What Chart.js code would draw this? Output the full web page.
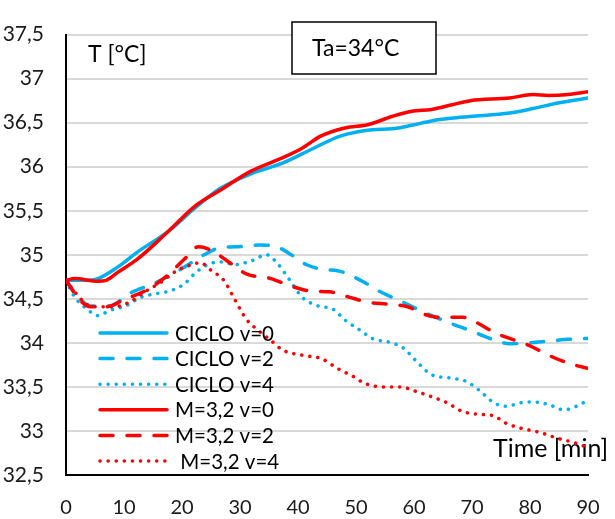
<!DOCTYPE html>
<html>
<head>
<meta charset="utf-8">
<script src="https://cdn.jsdelivr.net/npm/chart.js@4.4.1/dist/chart.umd.min.js"></script>
<style>
  html, body { margin: 0; padding: 0; background: #fff; }
  #wrap { width: 615px; height: 519px; position: relative; }
</style>
</head>
<body>
<div id="wrap"><canvas id="chart" width="615" height="519"></canvas></div>
<script>
// readings (minutes / °C)
const seriesLabels = ['CICLO v=0', 'CICLO v=2', 'CICLO v=4', 'M=3,2 v=0', 'M=3,2 v=2', ' M=3,2 v=4'];

const cicloV0Time = [0, 3, 5.5, 8.9, 12.3, 17.7, 22.4, 26.5, 31.9, 37.3, 42.7, 47.4, 52.8, 56.2, 59.6, 63, 66.4, 69.7, 76.5, 80.5, 84.6, 90];
const cicloV0Temp = [34.71, 34.71, 34.73, 34.86, 35.03, 35.27, 35.54, 35.75, 35.92, 36.04, 36.21, 36.35, 36.42, 36.43, 36.47, 36.52, 36.55, 36.57, 36.61, 36.66, 36.72, 36.78];

const cicloV2Time = [0, 2.2, 4.2, 7.6, 10.9, 15.7, 20.4, 23.8, 26.5, 29.2, 33.2, 35.9, 38.6, 41.4, 44.7, 46.8, 50.8, 54.2, 58.2, 61.6, 66.4, 69.7, 73.1, 76.5, 79.9, 83.2, 86.6, 90];
const cicloV2Temp = [34.71, 34.52, 34.42, 34.42, 34.56, 34.69, 34.86, 35.0, 35.08, 35.09, 35.11, 35.10, 35.01, 34.89, 34.83, 34.82, 34.71, 34.58, 34.46, 34.35, 34.22, 34.14, 34.05, 33.99, 34.0, 34.02, 34.04, 34.05];

const cicloV4Time = [0, 1.5, 3.5, 5.5, 7.6, 10.3, 13, 15.7, 18.4, 20.4, 22.4, 24.5, 26.5, 29.2, 31.9, 34.6, 36.6, 38.6, 40.7, 43.4, 46.1, 48.1, 50.8, 52.8, 56.2, 58.2, 60.3, 63, 66.4, 69.1, 71.1, 73.8, 75.8, 78.5, 80.5, 83.2, 85.9, 88, 90];
const cicloV4Temp = [34.71, 34.52, 34.39, 34.31, 34.37, 34.42, 34.52, 34.56, 34.6, 34.67, 34.8, 34.89, 34.92, 34.89, 34.93, 35.0, 34.89, 34.71, 34.52, 34.42, 34.38, 34.26, 34.14, 34.05, 34.0, 33.94, 33.8, 33.64, 33.6, 33.56, 33.47, 33.32, 33.28, 33.32, 33.33, 33.3, 33.24, 33.28, 33.35];

const m32V0Time = [0, 1.5, 5.5, 6.9, 8.9, 12.3, 17.7, 22.4, 26.5, 31.9, 37.3, 40.7, 44, 48.1, 52.2, 56.2, 59.6, 63, 66.4, 69.7, 76.5, 80.5, 83.2, 86.6, 90];
const m32V0Temp = [34.71, 34.73, 34.70, 34.71, 34.80, 34.95, 35.27, 35.56, 35.73, 35.95, 36.10, 36.21, 36.35, 36.44, 36.48, 36.57, 36.63, 36.65, 36.70, 36.75, 36.78, 36.82, 36.81, 36.82, 36.85];

const m32V2Time = [0, 2.2, 4.2, 6.9, 10.3, 13.6, 17, 20.4, 22.8, 25.1, 27.8, 31.2, 35.3, 38.6, 42, 45.4, 48.8, 52.2, 55.5, 58.9, 61.6, 64.3, 68.4, 71.1, 73.8, 76.5, 79.9, 83.2, 86.6, 90];
const m32V2Temp = [34.71, 34.5, 34.41, 34.41, 34.5, 34.59, 34.74, 34.95, 35.09, 35.05, 34.93, 34.78, 34.73, 34.65, 34.59, 34.58, 34.52, 34.46, 34.44, 34.41, 34.33, 34.29, 34.29, 34.22, 34.12, 34.05, 33.97, 33.86, 33.77, 33.71];

const m32V4Time = [0, 1.5, 3.5, 5.5, 8.2, 10.9, 13.6, 16.4, 19.1, 21.8, 23.1, 25.1, 27.2, 29.2, 31.2, 33.2, 35.3, 37.3, 40.7, 44.1, 46.8, 49.5, 51.5, 54.9, 57.6, 60.3, 63, 65.7, 68.4, 71.1, 73.8, 75.8, 78.5, 81.9, 84.6, 88, 90];
const m32V4Temp = [34.71, 34.58, 34.44, 34.41, 34.41, 34.46, 34.58, 34.69, 34.82, 34.89, 34.91, 34.82, 34.71, 34.48, 34.26, 34.14, 34.03, 33.92, 33.86, 33.82, 33.71, 33.62, 33.54, 33.5, 33.5, 33.45, 33.39, 33.32, 33.22, 33.19, 33.17, 33.09, 33.03, 32.98, 32.92, 32.86, 32.81];

const xTicks = [0, 10, 20, 30, 40, 50, 60, 70, 80, 90];
const yTicks = [32.5, 33, 33.5, 34, 34.5, 35, 35.5, 36, 36.5, 37, 37.5];

const cyan = '#00b0f0';
const red = '#ff0000';
const solid = [];
const dashed = [13, 14];
const dotted = [0.1, 8];
const FONT = 'Lato, "Open Sans", sans-serif';

function pts(xs, ys) {
  return xs.map((x, i) => ({ x: x, y: ys[i] }));
}

function makeSet(label, xs, ys, color, dash, order) {
  return {
    label: label,
    data: pts(xs, ys),
    borderColor: color,
    backgroundColor: color,
    borderWidth: 3.5,
    borderDash: dash,
    borderCapStyle: 'round',
    borderJoinStyle: 'round',
    pointRadius: 0,
    cubicInterpolationMode: 'monotone',
    fill: false,
    order: order // red series end up on top, like the original
  };
}

const datasets = [
  makeSet(seriesLabels[0], cicloV0Time, cicloV0Temp, cyan, solid, 6),
  makeSet(seriesLabels[1], cicloV2Time, cicloV2Temp, cyan, dashed, 5),
  makeSet(seriesLabels[2], cicloV4Time, cicloV4Temp, cyan, dotted, 4),
  makeSet(seriesLabels[3], m32V0Time, m32V0Temp, red, solid, 3),
  makeSet(seriesLabels[4], m32V2Time, m32V2Temp, red, dashed, 2),
  makeSet(seriesLabels[5], m32V4Time, m32V4Temp, red, dotted, 1)
];

// axis titles sit under the data lines
const underText = {
  id: 'underText',
  beforeDatasetsDraw(chart) {
    const ctx = chart.ctx;
    ctx.save();
    ctx.fillStyle = '#000';
    ctx.textBaseline = 'middle';
    ctx.textAlign = 'left';
    ctx.font = '23px ' + FONT;
    ctx.fillText('T [°C]', 88, 55);
    ctx.font = '25px ' + FONT;
    ctx.fillText('Time [min]', 493, 449);
    ctx.restore();
  }
};

// legend inside the plot + the Ta box
const overlay = {
  id: 'overlay',
  afterDraw(chart) {
    const ctx = chart.ctx;
    ctx.save();
    ctx.fillStyle = '#fff';
    ctx.fillRect(292, 22, 144, 52);
    ctx.strokeStyle = '#000';
    ctx.lineWidth = 1.5;
    ctx.strokeRect(292, 22, 144, 52);
    ctx.fillStyle = '#000';
    ctx.font = '23px ' + FONT;
    ctx.textBaseline = 'middle';
    ctx.textAlign = 'left';
    ctx.fillText('Ta=34°C', 312, 49);

    ctx.font = '20.5px ' + FONT;
    chart.data.datasets.forEach((ds, i) => {
      const y = 333 + i * 25.6;
      ctx.beginPath();
      ctx.strokeStyle = ds.borderColor;
      ctx.lineWidth = ds.borderWidth;
      ctx.lineCap = 'round';
      ctx.setLineDash(ds.borderDash);
      ctx.moveTo(100, y);
      ctx.lineTo(167, y);
      ctx.stroke();
      ctx.setLineDash([]);
      ctx.fillStyle = '#000';
      ctx.fillText(ds.label, 175, y + 1);
    });
    ctx.restore();
  }
};

new Chart(document.getElementById('chart'), {
  type: 'line',
  data: { datasets: datasets },
  options: {
    responsive: false,
    animation: false,
    layout: { padding: { top: 33, right: 27, left: 0, bottom: 0 } },
    plugins: { legend: { display: false }, tooltip: { enabled: false } },
    scales: {
      x: {
        type: 'linear',
        min: 0,
        max: 90,
        afterBuildTicks: s => { s.ticks = xTicks.map(v => ({ value: v })); },
        afterFit: s => { s.height = 44; },
        grid: { display: false },
        border: { display: true, color: '#000', width: 2 },
        ticks: { color: '#1a1a1a', font: { family: FONT, size: 20 }, padding: 13, maxRotation: 0 }
      },
      y: {
        min: 32.5,
        max: 37.5,
        afterBuildTicks: s => { s.ticks = yTicks.map(v => ({ value: v })); },
        afterFit: s => { s.width = 66; },
        grid: { color: '#d9d9d9', lineWidth: 2, drawTicks: false },
        border: { display: true, color: '#000', width: 2 },
        ticks: {
          color: '#1a1a1a',
          font: { family: FONT, size: 21 },
          padding: 22,
          callback: v => String(v).replace('.', ',')
        }
      }
    }
  },
  plugins: [underText, overlay]
});
</script>
</body>
</html>
